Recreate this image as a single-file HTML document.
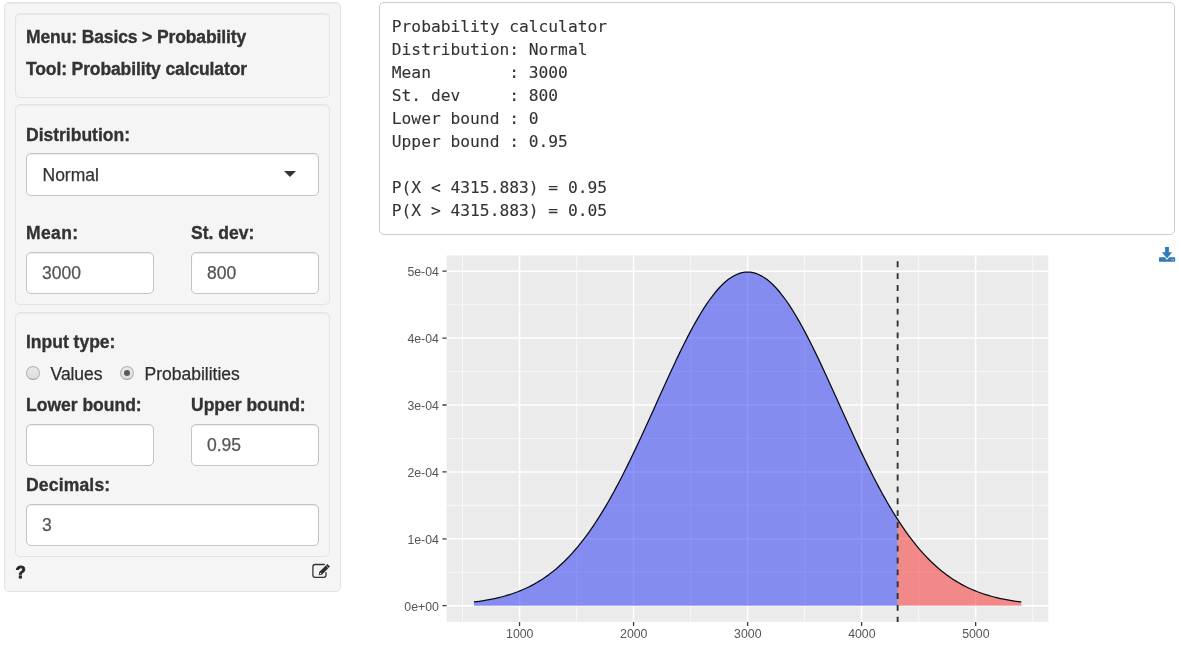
<!DOCTYPE html>
<html lang="en"><head><meta charset="utf-8"><title>Probability calculator</title>
<style>
html,body{margin:0;padding:0;background:#fff}
body{width:1179px;height:650px;position:relative;overflow:hidden;font-family:"Liberation Sans",Arial,sans-serif;font-size:17.5px;color:#333}
.abs,.well,.lbl,.txt,.inp,.plot,.ico{position:absolute}
.well{box-sizing:border-box;background:#f5f5f5;border:1px solid #e3e3e3;border-radius:5px;box-shadow:inset 0 1px 1px rgba(0,0,0,.05)}
.lbl{font-weight:bold;-webkit-text-stroke:.35px #333;line-height:20px;white-space:nowrap;color:#333}
.txt{-webkit-text-stroke:.25px #2e2e2e;line-height:20px;white-space:nowrap;color:#2e2e2e}
.inp{box-sizing:border-box;height:42px;background:#fff;border:1px solid #c4c4c4;border-radius:5px;box-shadow:inset 0 1px 1px rgba(0,0,0,.075);color:#555;-webkit-text-stroke:.25px currentColor;line-height:40px;padding-left:15px;white-space:nowrap}
.radio{position:absolute;box-sizing:border-box;width:14px;height:14px;border-radius:50%;border:1px solid #b2b2b2;border-bottom-color:#9c9c9c;background:linear-gradient(#e9e9e9,#dddddd)}
.radio.on::after{content:"";position:absolute;left:3px;top:3px;width:6px;height:6px;border-radius:50%;background:#5a5a5a}
pre{position:absolute;box-sizing:border-box;left:379px;top:2px;width:796px;height:233px;margin:0;border:1px solid #ccc;border-radius:5px;background:#fff;color:#333;font-family:"DejaVu Sans Mono","Liberation Mono",monospace;font-size:16.25px;-webkit-text-stroke:.1px #333;line-height:23px;padding:12px 0 0 11.8px;white-space:pre}
.plot{left:0;top:0}
</style></head><body>

<div class="well" style="left:4px;top:2px;width:337px;height:590px"></div>

<div class="well" style="left:15px;top:13px;width:315px;height:85px"></div>
<div class="lbl" style="left:26px;top:27px;letter-spacing:-0.12px">Menu: Basics &gt; Probability</div>
<div class="lbl" style="left:26px;top:59px;letter-spacing:-0.12px">Tool: Probability calculator</div>

<div class="well" style="left:15px;top:104px;width:315px;height:201px"></div>
<div class="lbl" style="left:26px;top:125px">Distribution:</div>
<div class="inp" style="left:26px;top:153px;width:293px;height:43px;line-height:42px;padding-left:15.5px;color:#333">Normal</div>
<svg class="ico" style="left:284px;top:171px" width="12" height="6" viewBox="0 0 12 6"><path d="M0,0 H12 L6,6 Z" fill="#333"/></svg>
<div class="lbl" style="left:26px;top:223px;letter-spacing:.4px">Mean:</div>
<div class="lbl" style="left:191px;top:223px">St. dev:</div>
<div class="inp" style="left:26px;top:252px;width:128px">3000</div>
<div class="inp" style="left:191px;top:252px;width:128px">800</div>

<div class="well" style="left:15px;top:312px;width:315px;height:245px"></div>
<div class="lbl" style="left:26px;top:332px">Input type:</div>
<div class="radio" style="left:26px;top:366px"></div>
<div class="txt" style="left:50.6px;top:364px;letter-spacing:-.08px">Values</div>
<div class="radio on" style="left:120px;top:366px"></div>
<div class="txt" style="left:144.5px;top:364px">Probabilities</div>
<div class="lbl" style="left:26px;top:395px">Lower bound:</div>
<div class="lbl" style="left:191px;top:395px">Upper bound:</div>
<div class="inp" style="left:26px;top:424px;width:128px"></div>
<div class="inp" style="left:191px;top:424px;width:128px">0.95</div>
<div class="lbl" style="left:26px;top:475px;letter-spacing:.18px">Decimals:</div>
<div class="inp" style="left:26px;top:504px;width:293px">3</div>

<div class="lbl" style="left:15.4px;top:563px;font-size:17px;color:#262626;-webkit-text-stroke:.8px #262626">?</div>
<svg class="ico" style="left:310px;top:561px" width="22" height="19" viewBox="310 561 22 19"><path d="M324.3,564.5 H315.2 A2.3,2.3 0 0 0 312.9,566.8 V575 A2.3,2.3 0 0 0 315.2,577.3 H323.7 A2.3,2.3 0 0 0 326,575 V572.7" fill="none" stroke="#333" stroke-width="1.3" stroke-linecap="round"/><path d="M318.8,575.2 L319.2,572 L327.3,563.9 L330,566.6 L321.9,574.7 Z" fill="#2e2e2e"/><path d="M326,565.6 L328.4,568" stroke="#f5f5f5" stroke-width=".6" fill="none"/><circle cx="320.6" cy="573.5" r=".8" fill="#e8e8e8"/></svg>

<pre>Probability calculator
Distribution: Normal
Mean        : 3000
St. dev     : 800
Lower bound : 0
Upper bound : 0.95

P(X &lt; 4315.883) = 0.95
P(X &gt; 4315.883) = 0.05</pre>

<svg class="ico" style="left:1159px;top:247px" width="17" height="15" viewBox="0 0 17 15"><path d="M6.1,0 H9.9 V5.2 H13.1 L8,11.6 L2.9,5.2 H6.1 Z M.7,10.2 H5.86 L8,12.9 L10.14,10.2 H15.5 A.7,.7 0 0 1 16.2,10.9 V14 A.7,.7 0 0 1 15.5,14.7 H.7 A.7,.7 0 0 1 0,14 V10.9 A.7,.7 0 0 1 .7,10.2 Z" fill="#337ab7"/><path d="M12.4,12.9 h.9 M14.1,12.9 h.9" stroke="#fff" stroke-opacity=".85" stroke-width="1"/></svg>

<svg class="plot" width="1179" height="650" viewBox="0 0 1179 650">
<rect x="446.6" y="255.4" width="601.7" height="366.5" fill="#ebebeb"/>
<path d="M462.54,255.4 V621.9 M576.56,255.4 V621.9 M690.59,255.4 V621.9 M804.61,255.4 V621.9 M918.64,255.4 V621.9 M1032.66,255.4 V621.9 M446.6,572.25 H1048.3 M446.6,505.35 H1048.3 M446.6,438.45 H1048.3 M446.6,371.55 H1048.3 M446.6,304.65 H1048.3" stroke="#fff" stroke-opacity=".6" stroke-width="1.05" fill="none"/>
<path d="M519.55,255.4 V621.9 M633.57,255.4 V621.9 M747.60,255.4 V621.9 M861.62,255.4 V621.9 M975.65,255.4 V621.9 M446.6,605.70 H1048.3 M446.6,538.80 H1048.3 M446.6,471.90 H1048.3 M446.6,405.00 H1048.3 M446.6,338.10 H1048.3 M446.6,271.20 H1048.3" stroke="#fff" stroke-width="1.5" fill="none"/>
<path d="M473.94,605.70 L473.94,601.99 L476.68,601.65 L479.41,601.27 L482.15,600.86 L484.89,600.43 L487.62,599.95 L490.36,599.44 L493.10,598.89 L495.83,598.30 L498.57,597.67 L501.31,596.99 L504.04,596.25 L506.78,595.47 L509.52,594.63 L512.25,593.74 L514.99,592.78 L517.73,591.76 L520.46,590.67 L523.20,589.51 L525.94,588.28 L528.67,586.97 L531.41,585.58 L534.15,584.11 L536.88,582.55 L539.62,580.90 L542.35,579.16 L545.09,577.32 L547.83,575.38 L550.56,573.33 L553.30,571.18 L556.04,568.92 L558.77,566.54 L561.51,564.05 L564.25,561.45 L566.98,558.72 L569.72,555.86 L572.46,552.89 L575.19,549.78 L577.93,546.54 L580.67,543.18 L583.40,539.68 L586.14,536.05 L588.88,532.28 L591.61,528.38 L594.35,524.35 L597.09,520.18 L599.82,515.88 L602.56,511.45 L605.30,506.89 L608.03,502.20 L610.77,497.39 L613.51,492.46 L616.24,487.40 L618.98,482.24 L621.72,476.96 L624.45,471.58 L627.19,466.10 L629.93,460.53 L632.66,454.86 L635.40,449.12 L638.14,443.31 L640.87,437.44 L643.61,431.50 L646.35,425.52 L649.08,419.51 L651.82,413.46 L654.56,407.40 L657.29,401.33 L660.03,395.26 L662.77,389.21 L665.50,383.19 L668.24,377.20 L670.98,371.26 L673.71,365.39 L676.45,359.59 L679.18,353.87 L681.92,348.26 L684.66,342.76 L687.39,337.38 L690.13,332.14 L692.87,327.04 L695.60,322.11 L698.34,317.35 L701.08,312.77 L703.81,308.39 L706.55,304.21 L709.29,300.25 L712.02,296.52 L714.76,293.02 L717.50,289.76 L720.23,286.76 L722.97,284.03 L725.71,281.56 L728.44,279.36 L731.18,277.45 L733.92,275.82 L736.65,274.48 L739.39,273.43 L742.13,272.68 L744.86,272.23 L747.60,272.08 L750.34,272.23 L753.07,272.68 L755.81,273.43 L758.55,274.48 L761.28,275.82 L764.02,277.45 L766.76,279.36 L769.49,281.56 L772.23,284.03 L774.97,286.76 L777.70,289.76 L780.44,293.02 L783.18,296.52 L785.91,300.25 L788.65,304.21 L791.39,308.39 L794.12,312.77 L796.86,317.35 L799.60,322.11 L802.33,327.04 L805.07,332.14 L807.81,337.38 L810.54,342.76 L813.28,348.26 L816.01,353.87 L818.75,359.59 L821.49,365.39 L824.22,371.26 L826.96,377.20 L829.70,383.19 L832.43,389.21 L835.17,395.26 L837.91,401.33 L840.64,407.40 L843.38,413.46 L846.12,419.51 L848.85,425.52 L851.59,431.50 L854.33,437.44 L857.06,443.31 L859.80,449.12 L862.54,454.86 L865.27,460.53 L868.01,466.10 L870.75,471.58 L873.48,476.96 L876.22,482.24 L878.96,487.40 L881.69,492.46 L884.43,497.39 L887.17,502.20 L889.90,506.89 L892.64,511.45 L895.38,515.88 L897.64,519.45 L897.64,605.70 Z" fill="rgb(30,46,244)" fill-opacity=".5"/>
<path d="M897.64,605.70 L897.64,519.45 L898.11,520.18 L900.85,524.35 L903.59,528.38 L906.32,532.28 L909.06,536.05 L911.80,539.68 L914.53,543.18 L917.27,546.54 L920.01,549.78 L922.74,552.89 L925.48,555.86 L928.22,558.72 L930.95,561.45 L933.69,564.05 L936.43,566.54 L939.16,568.92 L941.90,571.18 L944.64,573.33 L947.37,575.38 L950.11,577.32 L952.85,579.16 L955.58,580.90 L958.32,582.55 L961.05,584.11 L963.79,585.58 L966.53,586.97 L969.26,588.28 L972.00,589.51 L974.74,590.67 L977.47,591.76 L980.21,592.78 L982.95,593.74 L985.68,594.63 L988.42,595.47 L991.16,596.25 L993.89,596.99 L996.63,597.67 L999.37,598.30 L1002.10,598.89 L1004.84,599.44 L1007.58,599.95 L1010.31,600.43 L1013.05,600.86 L1015.79,601.27 L1018.52,601.65 L1021.26,601.99 L1021.26,605.70 Z" fill="rgb(250,40,40)" fill-opacity=".5"/>
<path d="M473.94,601.99 L476.68,601.65 L479.41,601.27 L482.15,600.86 L484.89,600.43 L487.62,599.95 L490.36,599.44 L493.10,598.89 L495.83,598.30 L498.57,597.67 L501.31,596.99 L504.04,596.25 L506.78,595.47 L509.52,594.63 L512.25,593.74 L514.99,592.78 L517.73,591.76 L520.46,590.67 L523.20,589.51 L525.94,588.28 L528.67,586.97 L531.41,585.58 L534.15,584.11 L536.88,582.55 L539.62,580.90 L542.35,579.16 L545.09,577.32 L547.83,575.38 L550.56,573.33 L553.30,571.18 L556.04,568.92 L558.77,566.54 L561.51,564.05 L564.25,561.45 L566.98,558.72 L569.72,555.86 L572.46,552.89 L575.19,549.78 L577.93,546.54 L580.67,543.18 L583.40,539.68 L586.14,536.05 L588.88,532.28 L591.61,528.38 L594.35,524.35 L597.09,520.18 L599.82,515.88 L602.56,511.45 L605.30,506.89 L608.03,502.20 L610.77,497.39 L613.51,492.46 L616.24,487.40 L618.98,482.24 L621.72,476.96 L624.45,471.58 L627.19,466.10 L629.93,460.53 L632.66,454.86 L635.40,449.12 L638.14,443.31 L640.87,437.44 L643.61,431.50 L646.35,425.52 L649.08,419.51 L651.82,413.46 L654.56,407.40 L657.29,401.33 L660.03,395.26 L662.77,389.21 L665.50,383.19 L668.24,377.20 L670.98,371.26 L673.71,365.39 L676.45,359.59 L679.18,353.87 L681.92,348.26 L684.66,342.76 L687.39,337.38 L690.13,332.14 L692.87,327.04 L695.60,322.11 L698.34,317.35 L701.08,312.77 L703.81,308.39 L706.55,304.21 L709.29,300.25 L712.02,296.52 L714.76,293.02 L717.50,289.76 L720.23,286.76 L722.97,284.03 L725.71,281.56 L728.44,279.36 L731.18,277.45 L733.92,275.82 L736.65,274.48 L739.39,273.43 L742.13,272.68 L744.86,272.23 L747.60,272.08 L750.34,272.23 L753.07,272.68 L755.81,273.43 L758.55,274.48 L761.28,275.82 L764.02,277.45 L766.76,279.36 L769.49,281.56 L772.23,284.03 L774.97,286.76 L777.70,289.76 L780.44,293.02 L783.18,296.52 L785.91,300.25 L788.65,304.21 L791.39,308.39 L794.12,312.77 L796.86,317.35 L799.60,322.11 L802.33,327.04 L805.07,332.14 L807.81,337.38 L810.54,342.76 L813.28,348.26 L816.01,353.87 L818.75,359.59 L821.49,365.39 L824.22,371.26 L826.96,377.20 L829.70,383.19 L832.43,389.21 L835.17,395.26 L837.91,401.33 L840.64,407.40 L843.38,413.46 L846.12,419.51 L848.85,425.52 L851.59,431.50 L854.33,437.44 L857.06,443.31 L859.80,449.12 L862.54,454.86 L865.27,460.53 L868.01,466.10 L870.75,471.58 L873.48,476.96 L876.22,482.24 L878.96,487.40 L881.69,492.46 L884.43,497.39 L887.17,502.20 L889.90,506.89 L892.64,511.45 L895.38,515.88 L898.11,520.18 L900.85,524.35 L903.59,528.38 L906.32,532.28 L909.06,536.05 L911.80,539.68 L914.53,543.18 L917.27,546.54 L920.01,549.78 L922.74,552.89 L925.48,555.86 L928.22,558.72 L930.95,561.45 L933.69,564.05 L936.43,566.54 L939.16,568.92 L941.90,571.18 L944.64,573.33 L947.37,575.38 L950.11,577.32 L952.85,579.16 L955.58,580.90 L958.32,582.55 L961.05,584.11 L963.79,585.58 L966.53,586.97 L969.26,588.28 L972.00,589.51 L974.74,590.67 L977.47,591.76 L980.21,592.78 L982.95,593.74 L985.68,594.63 L988.42,595.47 L991.16,596.25 L993.89,596.99 L996.63,597.67 L999.37,598.30 L1002.10,598.89 L1004.84,599.44 L1007.58,599.95 L1010.31,600.43 L1013.05,600.86 L1015.79,601.27 L1018.52,601.65 L1021.26,601.99" stroke="#0a0a14" stroke-width="1.25" fill="none" stroke-linejoin="round"/>
<path d="M897.64,621.9 V255.4" stroke="#333" stroke-width="1.9" stroke-dashoffset=".8" stroke-dasharray="5.9 5.95" fill="none"/>
<path d="M519.55,621.9 v4.1 M633.57,621.9 v4.1 M747.60,621.9 v4.1 M861.62,621.9 v4.1 M975.65,621.9 v4.1 M446.6,605.70 h-4.2 M446.6,538.80 h-4.2 M446.6,471.90 h-4.2 M446.6,405.00 h-4.2 M446.6,338.10 h-4.2 M446.6,271.20 h-4.2" stroke="#3c3c3c" stroke-width="1.3" fill="none"/>
<g font-family="'Liberation Sans',Arial,sans-serif" font-size="12.3" fill="#555">
<text x="519.75" y="638" text-anchor="middle">1000</text>
<text x="633.77" y="638" text-anchor="middle">2000</text>
<text x="747.80" y="638" text-anchor="middle">3000</text>
<text x="861.83" y="638" text-anchor="middle">4000</text>
<text x="975.85" y="638" text-anchor="middle">5000</text>
<text x="438.9" y="610.60" text-anchor="end">0e+00</text>
<text x="438.9" y="543.70" text-anchor="end">1e-04</text>
<text x="438.9" y="476.80" text-anchor="end">2e-04</text>
<text x="438.9" y="409.90" text-anchor="end">3e-04</text>
<text x="438.9" y="343.00" text-anchor="end">4e-04</text>
<text x="438.9" y="276.10" text-anchor="end">5e-04</text>
</g>
</svg>
</body></html>
